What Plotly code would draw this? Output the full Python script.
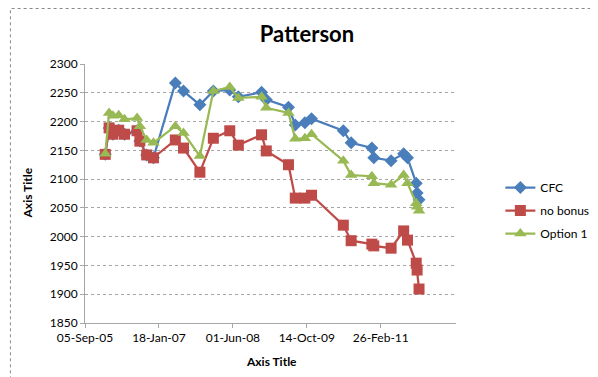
import plotly.graph_objects as go

dates = ["2006-01-20", "2006-02-15", "2006-03-13", "2006-04-21", "2006-05-30",
         "2006-08-23", "2006-09-11", "2006-10-27", "2006-12-12", "2007-05-09",
         "2007-07-03", "2007-10-22", "2008-01-21", "2008-05-11", "2008-07-08",
         "2008-12-12", "2009-01-13", "2009-06-12", "2009-07-28", "2009-10-01",
         "2009-11-15", "2010-06-18", "2010-08-10", "2010-12-28", "2011-01-10",
         "2011-05-07", "2011-07-31", "2011-08-26", "2011-10-24", "2011-10-30",
         "2011-11-12"]

cfc = [2143, 2189, 2178, 2185, 2178, 2184, 2166, 2142, 2137, 2267,
       2253, 2229, 2253, 2255, 2243, 2251, 2238, 2225, 2194, 2198,
       2205, 2184, 2163, 2154, 2137, 2132, 2144, 2137, 2093, 2076,
       2064]

no_bonus = [2143, 2189, 2178, 2185, 2178, 2184, 2166, 2142, 2137, 2168,
            2154, 2112, 2171, 2184, 2159, 2177, 2149, 2125, 2067, 2067,
            2072, 2020, 1993, 1987, 1984, 1980, 2010, 1994, 1954, 1942,
            1909]

option1 = [2144, 2215, 2210, 2211, 2204, 2206, 2192, 2168, 2163, 2192,
           2180, 2140, 2253, 2260, 2241, 2243, 2224, 2215, 2170, 2171,
           2178, 2132, 2107, 2105, 2093, 2090, 2107, 2093, 2058, 2052,
           2045]

tick_dates = ["2005-09-05", "2007-01-18", "2008-06-01", "2009-10-14", "2011-02-26"]
y_ticks = [1850, 1900, 1950, 2000, 2050, 2100, 2150, 2200, 2250, 2300]

FONT = "Lato, 'Open Sans', sans-serif"

fig = go.Figure()
fig.add_trace(go.Scatter(x=dates, y=cfc, name="CFC", mode="lines+markers",
                         legendgroup="a",
                         line=dict(color="#4A7EBB", width=2.25),
                         marker=dict(symbol="diamond", size=10, color="#4A7EBB")))
fig.add_trace(go.Scatter(x=dates, y=no_bonus, name="no bonus", mode="lines+markers",
                         legendgroup="b",
                         line=dict(color="#BE4B48", width=2.25),
                         marker=dict(symbol="square", size=11, color="#BE4B48")))
fig.add_trace(go.Scatter(x=dates, y=option1, name="Option 1", mode="lines+markers",
                         legendgroup="c",
                         line=dict(color="#98B954", width=2.25),
                         marker=dict(symbol="triangle-up", size=11, color="#98B954")))

L, R, T, B = 77, 140.5, 56, 62
W, H = 598, 377
pw = W - L - R
ph = H - T - B

fig.update_layout(
    width=W, height=H,
    margin=dict(l=L, r=R, t=T, b=B, pad=0),
    paper_bgcolor="white", plot_bgcolor="white",
    font=dict(family=FONT, size=12, color="black"),
    title=dict(text="<b>Patterson</b>", x=0.5, xref="container", xanchor="center",
               y=1 - 26 / H, yref="container", yanchor="middle",
               font=dict(size=22, family=FONT, color="black")),
    showlegend=True,
    legend=dict(x=(503 - L) / pw, xanchor="left", y=(H - B - 165) / ph, yanchor="top",
                font=dict(size=12, family=FONT), tracegroupgap=4,
                bgcolor="rgba(0,0,0,0)"),
    xaxis=dict(type="date", range=["2005-09-05", "2012-07-19"],
               tickvals=tick_dates, tickformat="%d-%b-%y",
               showgrid=False, zeroline=False,
               showline=True, linecolor="#A6A6A6", linewidth=1,
               ticks="outside", ticklen=4, tickcolor="#A6A6A6",
               tickfont=dict(size=12, family=FONT)),
    yaxis=dict(range=[1850, 2300], tickvals=y_ticks,
               showgrid=True, gridcolor="#A6A6A6", griddash="dot", gridwidth=1,
               zeroline=False,
               showline=True, linecolor="#A6A6A6", linewidth=1,
               ticks="outside", ticklen=4, tickcolor="#A6A6A6",
               tickfont=dict(size=12, family=FONT)),
)

fig.add_annotation(text="<b>Axis Title</b>", xref="paper", yref="paper",
                   x=(268 - L) / pw, y=(H - B - 353) / ph, showarrow=False,
                   font=dict(size=12, family=FONT), xanchor="center", yanchor="middle")
fig.add_annotation(text="<b>Axis Title</b>", xref="paper", yref="paper",
                   x=(18 - L) / pw, y=(H - B - 185) / ph, showarrow=False, textangle=-90,
                   font=dict(size=12, family=FONT), xanchor="center", yanchor="middle")

fig.add_shape(type="rect", xref="paper", yref="paper",
              x0=(0.5 - L) / pw, x1=(W - 0.5 - L) / pw,
              y0=(H - B - (H - 0.5)) / ph, y1=(H - B - 0.5) / ph,
              line=dict(color="#888888", width=1, dash="dot"))

fig.write_html("out.html")
